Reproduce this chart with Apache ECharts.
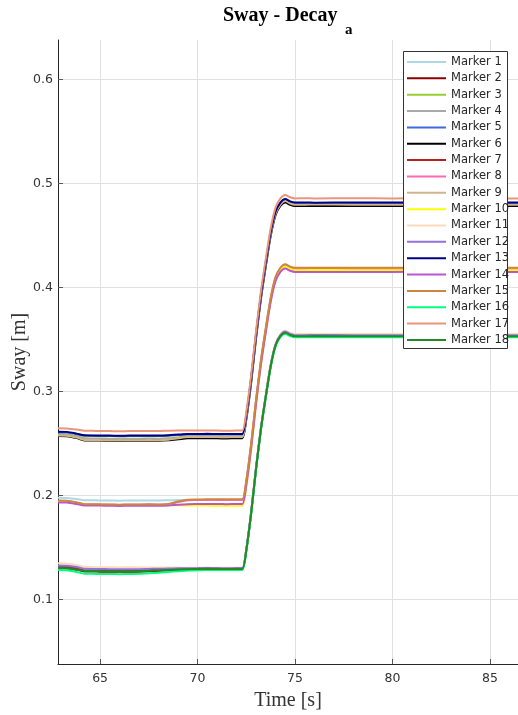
<!DOCTYPE html>
<html>
<head>
<meta charset="utf-8">
<script src="https://cdn.jsdelivr.net/npm/echarts@6/dist/echarts.min.js"></script>
<style>html,body{margin:0;padding:0;background:#fff;}#c{width:518px;height:715px;}</style>
</head>
<body>
<div id="c"></div>
<script>
const time = [62.84,63.3,63.8,64.2,64.6,65,65.5,66,66.5,67,67.5,68,68.5,69,69.5,70,70.5,71,71.5,72,72.3,72.5,72.75,73,73.25,73.5,73.75,74,74.25,74.5,74.75,75,75.5,76,78,80,82,84,86.5];
const xTicks = [65,70,75,80,85];
const yTicks = [0.1,0.2,0.3,0.4,0.5,0.6];

const marker1 = [0.1977,0.1975,0.1965,0.1953,0.1952,0.1951,0.1950,0.1948,0.1950,0.1950,0.1951,0.1950,0.1952,0.1954,0.1955,0.1955,0.1956,0.1955,0.1954,0.1955,0.1955,0.2133,0.2489,0.2912,0.3290,0.3602,0.3891,0.4091,0.4180,0.4213,0.4191,0.4180,0.4180,0.4181,0.4180,0.4180,0.4179,0.4180,0.4180];
const marker2 = [0.1304,0.1302,0.1287,0.1268,0.1267,0.1266,0.1265,0.1264,0.1265,0.1266,0.1270,0.1275,0.1281,0.1286,0.1291,0.1294,0.1296,0.1295,0.1294,0.1295,0.1295,0.1474,0.1833,0.2258,0.2639,0.2953,0.3244,0.3445,0.3535,0.3569,0.3546,0.3535,0.3535,0.3534,0.3535,0.3535,0.3536,0.3535,0.3535];
const marker3 = [0.2587,0.2585,0.2568,0.2548,0.2547,0.2546,0.2545,0.2543,0.2545,0.2545,0.2546,0.2545,0.2549,0.2557,0.2565,0.2565,0.2566,0.2565,0.2564,0.2565,0.2565,0.2744,0.3101,0.3526,0.3906,0.4219,0.4509,0.4711,0.4800,0.4834,0.4811,0.4800,0.4800,0.4801,0.4800,0.4800,0.4799,0.4800,0.4800];
const marker4 = [0.2580,0.2578,0.2562,0.2543,0.2542,0.2541,0.2540,0.2538,0.2540,0.2540,0.2541,0.2540,0.2544,0.2552,0.2560,0.2560,0.2561,0.2560,0.2559,0.2560,0.2560,0.2738,0.3095,0.3519,0.3898,0.4210,0.4500,0.4701,0.4790,0.4823,0.4801,0.4790,0.4790,0.4791,0.4790,0.4790,0.4789,0.4790,0.4790];
const marker5 = [0.2605,0.2603,0.2588,0.2573,0.2572,0.2571,0.2570,0.2568,0.2570,0.2570,0.2571,0.2570,0.2573,0.2579,0.2585,0.2585,0.2586,0.2585,0.2584,0.2585,0.2585,0.2763,0.3119,0.3542,0.3920,0.4232,0.4521,0.4721,0.4810,0.4843,0.4821,0.4810,0.4810,0.4811,0.4810,0.4810,0.4811,0.4810,0.4810];
const marker6 = [0.2570,0.2568,0.2550,0.2528,0.2527,0.2526,0.2525,0.2523,0.2525,0.2525,0.2526,0.2525,0.2529,0.2538,0.2548,0.2548,0.2549,0.2548,0.2547,0.2548,0.2548,0.2727,0.3084,0.3509,0.3888,0.4201,0.4492,0.4693,0.4782,0.4816,0.4793,0.4782,0.4782,0.4781,0.4782,0.4782,0.4783,0.4782,0.4782];
const marker7 = [0.1315,0.1313,0.1298,0.1278,0.1277,0.1276,0.1275,0.1274,0.1275,0.1276,0.1279,0.1283,0.1287,0.1290,0.1293,0.1295,0.1296,0.1295,0.1294,0.1295,0.1295,0.1474,0.1833,0.2258,0.2639,0.2953,0.3244,0.3445,0.3535,0.3569,0.3546,0.3535,0.3535,0.3536,0.3535,0.3535,0.3534,0.3535,0.3535];
const marker8 = [0.1945,0.1943,0.1928,0.1913,0.1912,0.1911,0.1910,0.1908,0.1910,0.1910,0.1911,0.1910,0.1914,0.1935,0.1952,0.1954,0.1955,0.1954,0.1954,0.1955,0.1955,0.2132,0.2487,0.2908,0.3285,0.3596,0.3884,0.4083,0.4172,0.4205,0.4183,0.4172,0.4172,0.4173,0.4172,0.4172,0.4171,0.4172,0.4172];
const marker9 = [0.2575,0.2573,0.2555,0.2533,0.2532,0.2531,0.2530,0.2528,0.2530,0.2530,0.2531,0.2530,0.2534,0.2548,0.2560,0.2560,0.2561,0.2560,0.2559,0.2560,0.2560,0.2739,0.3096,0.3521,0.3901,0.4214,0.4504,0.4706,0.4795,0.4829,0.4806,0.4795,0.4795,0.4796,0.4795,0.4795,0.4794,0.4795,0.4795];
const marker10 = [0.1945,0.1943,0.1927,0.1911,0.1910,0.1909,0.1908,0.1906,0.1908,0.1908,0.1908,0.1907,0.1906,0.1904,0.1902,0.1901,0.1901,0.1900,0.1900,0.1900,0.1900,0.2081,0.2444,0.2874,0.3259,0.3576,0.3871,0.4074,0.4165,0.4199,0.4176,0.4165,0.4165,0.4166,0.4165,0.4165,0.4164,0.4165,0.4165];
const marker11 = [0.1346,0.1344,0.1330,0.1312,0.1310,0.1309,0.1308,0.1307,0.1308,0.1307,0.1306,0.1306,0.1305,0.1305,0.1304,0.1304,0.1305,0.1304,0.1303,0.1304,0.1304,0.1484,0.1843,0.2270,0.2652,0.2966,0.3258,0.3460,0.3550,0.3584,0.3561,0.3550,0.3550,0.3551,0.3550,0.3550,0.3549,0.3550,0.3550];
const marker12 = [0.1325,0.1323,0.1310,0.1293,0.1292,0.1291,0.1290,0.1289,0.1290,0.1290,0.1292,0.1294,0.1296,0.1298,0.1299,0.1300,0.1301,0.1300,0.1299,0.1300,0.1300,0.1479,0.1838,0.2263,0.2644,0.2958,0.3249,0.3450,0.3540,0.3574,0.3551,0.3540,0.3540,0.3541,0.3540,0.3540,0.3539,0.3540,0.3540];
const marker13 = [0.2612,0.2610,0.2593,0.2577,0.2576,0.2575,0.2574,0.2572,0.2574,0.2574,0.2575,0.2574,0.2577,0.2584,0.2590,0.2590,0.2591,0.2590,0.2589,0.2590,0.2590,0.2768,0.3124,0.3547,0.3925,0.4237,0.4526,0.4726,0.4815,0.4848,0.4826,0.4815,0.4815,0.4814,0.4815,0.4815,0.4814,0.4815,0.4815];
const marker14 = [0.1932,0.1930,0.1916,0.1903,0.1902,0.1901,0.1900,0.1898,0.1900,0.1900,0.1901,0.1900,0.1903,0.1910,0.1915,0.1916,0.1917,0.1916,0.1915,0.1916,0.1916,0.2095,0.2452,0.2876,0.3255,0.3568,0.3858,0.4059,0.4148,0.4181,0.4159,0.4148,0.4148,0.4147,0.4148,0.4148,0.4149,0.4148,0.4148];
const marker15 = [0.1950,0.1948,0.1932,0.1915,0.1914,0.1913,0.1912,0.1910,0.1912,0.1912,0.1913,0.1912,0.1916,0.1940,0.1958,0.1960,0.1962,0.1961,0.1961,0.1962,0.1962,0.2140,0.2496,0.2919,0.3298,0.3609,0.3899,0.4099,0.4188,0.4221,0.4199,0.4188,0.4188,0.4187,0.4188,0.4188,0.4189,0.4188,0.4188];
const marker16 = [0.1282,0.1280,0.1262,0.1246,0.1245,0.1244,0.1243,0.1242,0.1243,0.1245,0.1250,0.1256,0.1263,0.1270,0.1276,0.1280,0.1282,0.1282,0.1281,0.1282,0.1282,0.1461,0.1819,0.2244,0.2625,0.2938,0.3229,0.3430,0.3520,0.3554,0.3531,0.3520,0.3520,0.3521,0.3520,0.3520,0.3519,0.3520,0.3520];
const marker17 = [0.2644,0.2642,0.2632,0.2621,0.2620,0.2619,0.2618,0.2616,0.2618,0.2618,0.2619,0.2618,0.2621,0.2623,0.2622,0.2622,0.2623,0.2622,0.2621,0.2622,0.2622,0.2801,0.3158,0.3582,0.3962,0.4274,0.4565,0.4766,0.4855,0.4888,0.4866,0.4855,0.4856,0.4855,0.4856,0.4855,0.4856,0.4855,0.4855];
const marker18 = [0.1300,0.1298,0.1285,0.1273,0.1272,0.1271,0.1270,0.1269,0.1270,0.1271,0.1274,0.1278,0.1283,0.1287,0.1290,0.1292,0.1293,0.1292,0.1291,0.1292,0.1292,0.1471,0.1829,0.2254,0.2635,0.2948,0.3239,0.3440,0.3530,0.3564,0.3541,0.3530,0.3530,0.3531,0.3530,0.3530,0.3529,0.3530,0.3530];

const markers = [marker1,marker2,marker3,marker4,marker5,marker6,marker7,marker8,marker9,marker10,marker11,marker12,marker13,marker14,marker15,marker16,marker17,marker18];
const names = markers.map((_, i) => 'Marker ' + (i + 1));
const colors = ['#add8e6','#8b0000','#9acd32','#a9a9a9','#4169e1','#000000','#b22222','#ff69b4','#d2b48c','#ffff00','#ffdab9','#9370db','#000080','#ba55d3','#cd853f','#00ff7f','#e9967a','#228b22'];

const chart = echarts.init(document.getElementById('c'), null, {renderer: 'canvas'});
const axisCol = '#262626';
chart.setOption({
  animation: false,
  backgroundColor: '#ffffff',
  color: colors,
  title: [
    {text: 'Sway - Decay', left: 223, top: 6, padding: 0, textStyle: {fontFamily: 'Liberation Serif', fontWeight: 'bold', fontSize: 20, color: '#000'}},
    {text: 'a', left: 345, top: 23, padding: 0, textStyle: {fontFamily: 'Liberation Serif', fontWeight: 'bold', fontSize: 15, color: '#000'}}
  ],
  grid: {left: 58, top: 40, right: 0, bottom: 51, containLabel: false, outerBoundsMode: 'none'},
  xAxis: {
    type: 'value', min: 62.84, max: 86.44,
    name: 'Time [s]', nameLocation: 'middle', nameGap: 27, nameMoveOverlap: false,
    nameTextStyle: {fontFamily: 'Liberation Serif', fontSize: 20, color: '#333'},
    axisLine: {show: true, onZero: false, lineStyle: {color: axisCol, width: 1}},
    axisTick: {show: true, inside: true, length: 5, customValues: xTicks, lineStyle: {color: '#555'}},
    axisLabel: {customValues: xTicks, fontFamily: 'DejaVu Sans', fontSize: 12.5, color: '#333', margin: 8},
    splitLine: {show: true, lineStyle: {color: '#e0e0e0', width: 1}}
  },
  yAxis: {
    type: 'value', min: 0.0378, max: 0.6378,
    name: 'Sway [m]', nameLocation: 'middle', nameGap: 28, nameMoveOverlap: false,
    nameTextStyle: {fontFamily: 'Liberation Serif', fontSize: 20, color: '#333'},
    axisLine: {show: true, onZero: false, lineStyle: {color: axisCol, width: 1}},
    axisTick: {show: true, inside: true, length: 5, customValues: yTicks, lineStyle: {color: '#555'}},
    axisLabel: {customValues: yTicks, fontFamily: 'DejaVu Sans', fontSize: 12.5, color: '#333', margin: 5, formatter: v => v.toFixed(1)},
    splitLine: {show: true, lineStyle: {color: '#e0e0e0', width: 1}}
  },
  graphic: {elements: [{type: 'rect', z: 50, shape: {x: 403.5, y: 51.5, width: 104, height: 297}, style: {fill: '#fff', stroke: '#333', lineWidth: 1}}]},
  legend: {
    z: 60, orient: 'vertical', left: 403, top: 51, padding: [5, 0, 3, 4],
    icon: 'rect', itemWidth: 39, itemHeight: 2, itemGap: 4.35,
    textStyle: {fontFamily: 'DejaVu Sans', fontSize: 11.5, color: '#262626', lineHeight: 12},
    data: names
  },
  series: markers.map((m, i) => ({
    name: names[i], type: 'line', symbol: 'none', showSymbol: false, smooth: 0.25,
    lineStyle: {width: 2, color: colors[i]}, itemStyle: {color: colors[i]},
    data: time.map((t, j) => [t, m[j]])
  }))
});
</script>
</body>
</html>
